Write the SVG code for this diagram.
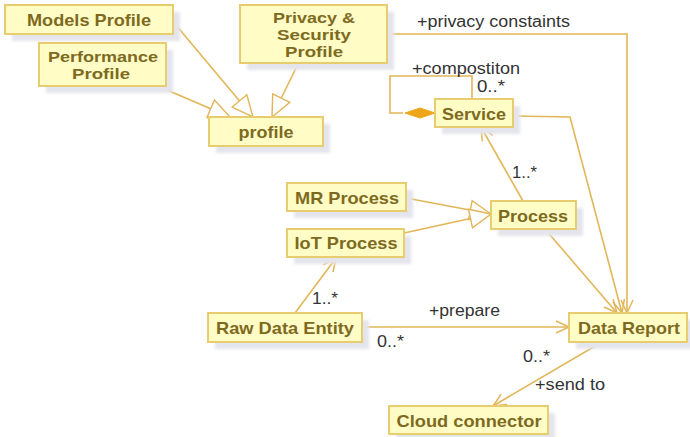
<svg xmlns="http://www.w3.org/2000/svg" width="690" height="437" viewBox="0 0 690 437">
<style>
.box{fill:#fffcc6;stroke:#e8cc70;stroke-width:2}
.sh{fill:#e4e4ec;filter:url(#blur)}
.nt{font-family:"Liberation Sans",Arial,sans-serif;font-weight:bold;font-size:17px;fill:#7d6a1e;text-anchor:middle;dominant-baseline:central}
.nt2{font-size:14.5px}
.lb{font-family:"Liberation Sans",Arial,sans-serif;font-size:16px;fill:#333;dominant-baseline:central}
.ln{fill:none;stroke:#e2b658;stroke-width:1.6}
</style>
<defs>
<filter id="blur" x="-10%" y="-20%" width="120%" height="140%"><feGaussianBlur stdDeviation="1.5"/></filter>
<marker id="tri" viewBox="-23 -12 25 24" refX="0" refY="0" markerWidth="25" markerHeight="24" markerUnits="userSpaceOnUse" orient="auto">
<path d="M0,0 L-21,-9.5 L-21,9.5 Z" fill="#fff" stroke="#e2b658" stroke-width="1.4"/>
</marker>
<marker id="open" viewBox="-15 -8 17 16" refX="0" refY="0" markerWidth="17" markerHeight="16" markerUnits="userSpaceOnUse" orient="auto">
<path d="M-13,-6 L0,0 L-13,6" fill="none" stroke="#e2b658" stroke-width="1.5"/>
</marker>
</defs>

<g id="connectors">
<path class="ln" d="M175,24 L253,117" marker-end="url(#tri)"/>
<path class="ln" d="M160,87 L230,117" marker-end="url(#tri)"/>
<path class="ln" d="M298,64 L272,117" marker-end="url(#tri)"/>
<path class="ln" d="M387,34 L627,34 L627,313" marker-end="url(#open)"/>
<path class="ln" d="M403,113 L390,113 L390,76 L472,76 L472,99"/>
<polygon points="435,113 420,108 405,113 420,118" fill="#eea51a" stroke="#eea51a" stroke-width="1"/>
<path class="ln" d="M513,116 L570,117 L622,313" marker-end="url(#open)"/>
<path class="ln" d="M523,201 L481,127" marker-end="url(#open)"/>
<path class="ln" d="M545,229 L617,313" marker-end="url(#open)"/>
<path class="ln" d="M406,198 L491,214" marker-end="url(#tri)"/>
<path class="ln" d="M404,233 L491,214" marker-end="url(#tri)"/>
<path class="ln" d="M295,313 L336,258" marker-end="url(#open)"/>
<path class="ln" d="M362,327 L569,327" marker-end="url(#open)"/>
<path class="ln" d="M602,342 L493,406" marker-end="url(#open)"/>
<text class="lb" x="417" y="21" textLength="153" lengthAdjust="spacingAndGlyphs">+privacy constaints</text>
<text class="lb" x="412" y="68" textLength="108" lengthAdjust="spacingAndGlyphs">+compostiton</text>
<text class="lb" x="477" y="86" textLength="28" lengthAdjust="spacingAndGlyphs">0..*</text>
<text class="lb" x="512" y="172" textLength="25" lengthAdjust="spacingAndGlyphs">1..*</text>
<text class="lb" x="312" y="298" textLength="26" lengthAdjust="spacingAndGlyphs">1..*</text>
<text class="lb" x="429" y="310" textLength="71" lengthAdjust="spacingAndGlyphs">+prepare</text>
<text class="lb" x="377" y="341" textLength="27" lengthAdjust="spacingAndGlyphs">0..*</text>
<text class="lb" x="523" y="356" textLength="27" lengthAdjust="spacingAndGlyphs">0..*</text>
<text class="lb" x="535" y="384" textLength="70" lengthAdjust="spacingAndGlyphs">+send to</text>
</g>

<g id="models-profile">
<rect class="sh" x="12" y="12" width="168" height="29"/>
<rect class="box" x="5" y="5" width="168" height="29"/>
<text class="nt" x="89" y="20" textLength="124" lengthAdjust="spacingAndGlyphs">Models Profile</text>
</g>
<g id="performance-profile">
<rect class="sh" x="46" y="50" width="127" height="43"/>
<rect class="box" x="39" y="43" width="127" height="43"/>
<text class="nt nt2"><tspan x="103" y="56.5" textLength="110" lengthAdjust="spacingAndGlyphs">Performance</tspan><tspan x="101" y="73.5" textLength="58" lengthAdjust="spacingAndGlyphs">Profile</tspan></text>
</g>
<g id="privacy-profile">
<rect class="sh" x="247" y="12" width="147" height="58"/>
<rect class="box" x="240" y="5" width="147" height="58"/>
<text class="nt nt2"><tspan x="314" y="18" textLength="82" lengthAdjust="spacingAndGlyphs">Privacy &amp;</tspan><tspan x="314" y="35" textLength="74" lengthAdjust="spacingAndGlyphs">Security</tspan><tspan x="314" y="52" textLength="58" lengthAdjust="spacingAndGlyphs">Profile</tspan></text>
</g>
<g id="profile">
<rect class="sh" x="216" y="124" width="114" height="29"/>
<rect class="box" x="209" y="117" width="114" height="29"/>
<text class="nt" x="266" y="132" textLength="55" lengthAdjust="spacingAndGlyphs">profile</text>
</g>
<g id="service">
<rect class="sh" x="442" y="106" width="78" height="28"/>
<rect class="box" x="435" y="99" width="78" height="28"/>
<text class="nt" x="474" y="114" textLength="64" lengthAdjust="spacingAndGlyphs">Service</text>
</g>
<g id="mr-process">
<rect class="sh" x="294" y="190" width="119" height="28"/>
<rect class="box" x="287" y="183" width="119" height="28"/>
<text class="nt" x="347" y="198" textLength="104" lengthAdjust="spacingAndGlyphs">MR Process</text>
</g>
<g id="iot-process">
<rect class="sh" x="294" y="236" width="117" height="28"/>
<rect class="box" x="287" y="229" width="117" height="28"/>
<text class="nt" x="346" y="243" textLength="103" lengthAdjust="spacingAndGlyphs">IoT Process</text>
</g>
<g id="process">
<rect class="sh" x="498" y="208" width="85" height="28"/>
<rect class="box" x="491" y="201" width="85" height="28"/>
<text class="nt" x="533" y="216" textLength="70" lengthAdjust="spacingAndGlyphs">Process</text>
</g>
<g id="raw-data-entity">
<rect class="sh" x="215" y="320" width="154" height="29"/>
<rect class="box" x="208" y="313" width="154" height="29"/>
<text class="nt" x="285" y="328" textLength="138" lengthAdjust="spacingAndGlyphs">Raw Data Entity</text>
</g>
<g id="data-report">
<rect class="sh" x="576" y="320" width="118" height="29"/>
<rect class="box" x="569" y="313" width="118" height="29"/>
<text class="nt" x="629" y="328" textLength="102" lengthAdjust="spacingAndGlyphs">Data Report</text>
</g>
<g id="cloud-connector">
<rect class="sh" x="396" y="413" width="159" height="28"/>
<rect class="box" x="389" y="406" width="159" height="28"/>
<text class="nt" x="469" y="421" textLength="145" lengthAdjust="spacingAndGlyphs">Cloud connector</text>
</g>
</svg>
